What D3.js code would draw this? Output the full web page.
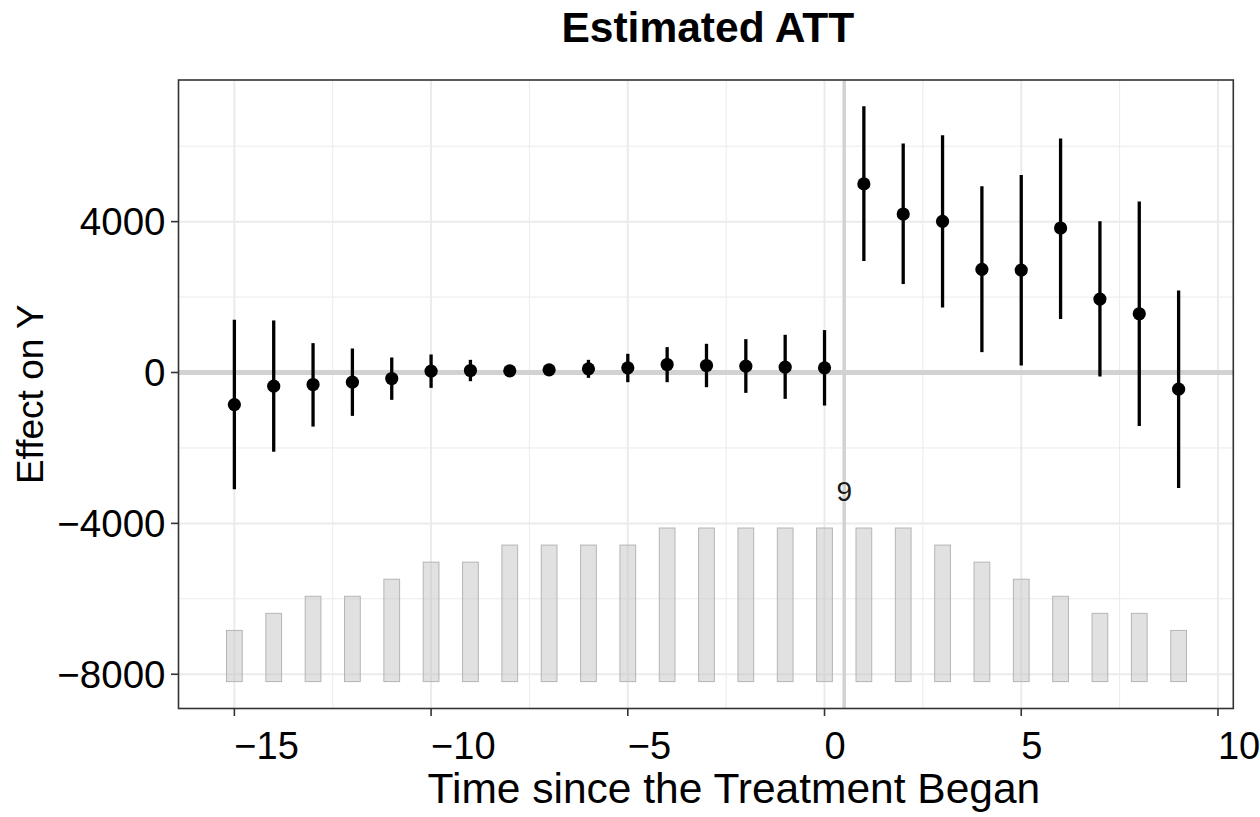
<!DOCTYPE html>
<html>
<head>
<meta charset="utf-8">
<script src="https://cdn.jsdelivr.net/npm/d3@7"></script>
<style>
  html, body { margin: 0; padding: 0; background: #ffffff; }
  svg { display: block; font-family: "Liberation Sans", Arial, Helvetica, sans-serif; }
</style>
</head>
<body>
<svg id="chart" width="1260" height="817"></svg>
<script>
// ---- data ----
const timeSince = [-15,-14,-13,-12,-11,-10,-9,-8,-7,-6,-5,-4,-3,-2,-1,0,1,2,3,4,5,6,7,8,9];
const attEstimate = [-850,-363,-319,-257,-159,35,53,44,71,97,124,212,186,168,141,124,5000,4203,4009,2734,2716,3831,1947,1558,-442];
const ciLower = [-3098,-2100,-1434,-1150,-725,-407,-230,-90,-60,-142,-257,-257,-390,-540,-699,-876,2956,2345,1725,540,186,1416,-106,-1416,-3062];
const ciUpper = [1400,1380,779,637,398,478,336,175,200,336,496,673,761,885,1000,1124,7062,6070,6292,4938,5238,6203,4009,4531,2177];
const unitCounts = [3,4,5,5,6,7,7,8,8,8,8,9,9,9,9,9,9,9,8,7,6,5,4,4,3];
const xTicks = [-15,-10,-5,0,5,10];
const yTicks = [-8000,-4000,0,4000];
const xMinor = [-12.5,-7.5,-2.5,2.5,7.5];
const yMinor = [-6000,-2000,2000,6000];
const titleText = "Estimated ATT";
const xLabel = "Time since the Treatment Began";
const yLabel = "Effect on Y";

// ---- layout ----
const svg = d3.select("#chart");
const panel = { left: 178.5, right: 1233.3, top: 80, bottom: 708.5 };

const x = d3.scaleLinear().domain([-16.42, 10.39]).range([panel.left, panel.right]);
const y = d3.scaleLinear().domain([-8908, 7755]).range([panel.bottom, panel.top]);
// count bars: map counts to data units at the bottom of the panel
const maxCount = d3.max(unitCounts);
const countY = d3.scaleLinear().domain([0, maxCount]).range([-8195, -4123]);
const fmt = v => (v < 0 ? "\u2212" + Math.abs(v) : String(v));

const data = timeSince.map((t, i) => ({
  t, est: attEstimate[i], lo: ciLower[i], hi: ciUpper[i], n: unitCounts[i]
}));

const g = svg.append("g");

svg.append("defs").append("clipPath").attr("id", "pclip")
  .append("rect")
  .attr("x", panel.left).attr("y", panel.top)
  .attr("width", panel.right - panel.left).attr("height", panel.bottom - panel.top);

const inner = g.append("g").attr("clip-path", "url(#pclip)");

// minor grid
inner.selectAll(".xminor").data(xMinor).join("line")
  .attr("x1", d => x(d)).attr("x2", d => x(d))
  .attr("y1", panel.top).attr("y2", panel.bottom)
  .attr("stroke", "#ebebeb").attr("stroke-width", 1);
inner.selectAll(".yminor").data(yMinor).join("line")
  .attr("y1", d => y(d)).attr("y2", d => y(d))
  .attr("x1", panel.left).attr("x2", panel.right)
  .attr("stroke", "#ebebeb").attr("stroke-width", 1);
// major grid
inner.selectAll(".xmajor").data(xTicks).join("line")
  .attr("x1", d => x(d)).attr("x2", d => x(d))
  .attr("y1", panel.top).attr("y2", panel.bottom)
  .attr("stroke", "#ebebeb").attr("stroke-width", 2);
inner.selectAll(".ymajor").data(yTicks).join("line")
  .attr("y1", d => y(d)).attr("y2", d => y(d))
  .attr("x1", panel.left).attr("x2", panel.right)
  .attr("stroke", "#ebebeb").attr("stroke-width", 2);

// count bars
const barHalf = 0.2;
inner.selectAll(".bar").data(data).join("rect")
  .attr("x", d => x(d.t - barHalf))
  .attr("width", d => x(d.t + barHalf) - x(d.t - barHalf))
  .attr("y", d => y(countY(d.n)))
  .attr("height", d => y(countY(0)) - y(countY(d.n)))
  .attr("fill", "#c4c4c4").attr("fill-opacity", 0.5)
  .attr("stroke", "#b5b5b5").attr("stroke-width", 1);

// zero line and treatment line
inner.append("line")
  .attr("x1", panel.left).attr("x2", panel.right)
  .attr("y1", y(0)).attr("y2", y(0))
  .attr("stroke", "#d2d2d2").attr("stroke-width", 5);
inner.append("line")
  .attr("x1", x(0.5)).attr("x2", x(0.5))
  .attr("y1", panel.top).attr("y2", panel.bottom)
  .attr("stroke", "#d2d2d2").attr("stroke-width", 3.5);

// max count label
inner.append("text")
  .attr("x", x(0.5)).attr("y", y(countY(maxCount)) - 27)
  .attr("text-anchor", "middle")
  .attr("font-size", 28).attr("fill", "#1a1a1a")
  .text(maxCount);

// error bars
inner.selectAll(".err").data(data).join("line")
  .attr("x1", d => x(d.t)).attr("x2", d => x(d.t))
  .attr("y1", d => y(d.lo)).attr("y2", d => y(d.hi))
  .attr("stroke", "#000").attr("stroke-width", 3.3);
// points
inner.selectAll(".pt").data(data).join("circle")
  .attr("cx", d => x(d.t)).attr("cy", d => y(d.est))
  .attr("r", 6.6).attr("fill", "#000");

// panel border
g.append("rect")
  .attr("x", panel.left).attr("y", panel.top)
  .attr("width", panel.right - panel.left).attr("height", panel.bottom - panel.top)
  .attr("fill", "none").attr("stroke", "#333333").attr("stroke-width", 1.6);

// x axis ticks & labels (left-aligned at tick, as in reference)
g.selectAll(".xt").data(xTicks).join("line")
  .attr("x1", d => x(d)).attr("x2", d => x(d))
  .attr("y1", panel.bottom).attr("y2", panel.bottom + 7.5)
  .attr("stroke", "#333333").attr("stroke-width", 1.6);
g.selectAll(".xtl").data(xTicks).join("text")
  .attr("x", d => x(d)).attr("y", 758.5)
  .attr("text-anchor", "start")
  .attr("font-size", 38).attr("fill", "#000")
  .text(d => fmt(d));

// y axis ticks & labels
g.selectAll(".yt").data(yTicks).join("line")
  .attr("y1", d => y(d)).attr("y2", d => y(d))
  .attr("x1", panel.left - 7.5).attr("x2", panel.left)
  .attr("stroke", "#333333").attr("stroke-width", 1.6);
g.selectAll(".ytl").data(yTicks).join("text")
  .attr("x", 165.5).attr("y", d => y(d))
  .attr("dy", "0.355em")
  .attr("text-anchor", "end")
  .attr("font-size", 38.5).attr("fill", "#000")
  .text(d => fmt(d));

// titles
g.append("text")
  .attr("x", (panel.left + panel.right) / 2 + 2).attr("y", 41.7)
  .attr("text-anchor", "middle")
  .attr("font-size", 42.5).attr("font-weight", "bold").attr("fill", "#000")
  .text(titleText);
g.append("text")
  .attr("x", (panel.left + panel.right) / 2 + 28).attr("y", 803)
  .attr("text-anchor", "middle")
  .attr("font-size", 42.5).attr("fill", "#000")
  .text(xLabel);
g.append("text")
  .attr("transform", `translate(43,${(panel.top + panel.bottom) / 2}) rotate(-90)`)
  .attr("text-anchor", "middle")
  .attr("font-size", 37).attr("fill", "#000")
  .text(yLabel);
</script>
</body>
</html>
